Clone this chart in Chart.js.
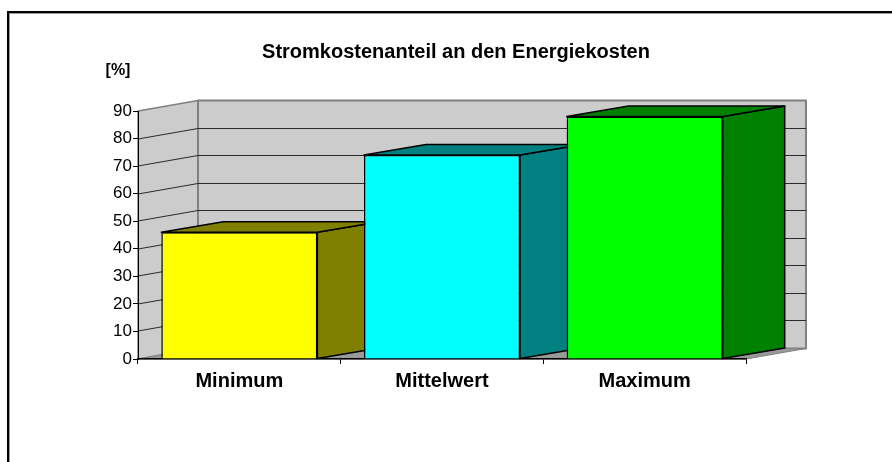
<!DOCTYPE html>
<html lang="de">
<head>
<meta charset="utf-8">
<title>Stromkostenanteil an den Energiekosten</title>
<script src="https://cdn.jsdelivr.net/npm/chart.js@4"></script>
<style>
  html, body { margin: 0; padding: 0; background: #fff; overflow: hidden; }
  canvas { display: block; }
</style>
</head>
<body>
<canvas id="chart" width="892" height="462"></canvas>
<script>
const categories = ["Minimum", "Mittelwert", "Maximum"];
const values = [46, 74, 88];
const tickLabels = [0, 10, 20, 30, 40, 50, 60, 70, 80, 90];
const chartTitle = "Stromkostenanteil an den Energiekosten";
const unitLabel = "[%]";

const frontColors = ["#ffff00", "#00ffff", "#00ff00"];
const sideColors = ["#808000", "#008080", "#008000"];

// depth of the fake 3D box
const DEPTH_X = 60;
const DEPTH_Y = -10.5;
const FONT = '"Liberation Sans", Arial, sans-serif';

function poly(ctx, pts, fill, stroke, lineWidth) {
  ctx.beginPath();
  pts.forEach((p, i) => (i ? ctx.lineTo(p[0], p[1]) : ctx.moveTo(p[0], p[1])));
  ctx.closePath();
  if (fill) {
    ctx.fillStyle = fill;
    ctx.fill();
  }
  if (stroke) {
    ctx.strokeStyle = stroke;
    ctx.lineWidth = lineWidth;
    ctx.lineJoin = "round";
    ctx.stroke();
  }
}

const pagePlugin = {
  id: "page",
  beforeDraw(chart) {
    const ctx = chart.ctx;
    ctx.save();
    // only top and left edges of the frame are in the picture
    ctx.fillStyle = "#999999";
    ctx.fillRect(7, 11, 885, 3);
    ctx.fillRect(7, 11, 3, 451);
    ctx.fillStyle = "#000000";
    ctx.fillRect(7, 11, 885, 2);
    ctx.fillRect(7, 11, 2, 451);
    ctx.textBaseline = "middle";
    ctx.textAlign = "center";
    ctx.font = "bold 20px " + FONT;
    ctx.fillText(chartTitle, 456, 52);
    ctx.font = "bold 16px " + FONT;
    ctx.fillText(unitLabel, 118, 71);
    ctx.restore();
  },
};

const wallsPlugin = {
  id: "walls",
  // before the scales, so the black axis lines stay on top of the walls
  beforeDraw(chart) {
    const ctx = chart.ctx;
    const { x: xs, y: ys } = chart.scales;
    const l = xs.left, r = xs.right;
    const top = ys.getPixelForValue(tickLabels[tickLabels.length - 1]);
    const bot = ys.getPixelForValue(0);
    ctx.save();
    // side wall, back wall, floor
    poly(ctx, [[l, bot], [l + DEPTH_X, bot + DEPTH_Y], [l + DEPTH_X, top + DEPTH_Y], [l, top]], "#cccccc", "#808080", 1.5);
    poly(ctx, [[l + DEPTH_X, bot + DEPTH_Y], [r + DEPTH_X, bot + DEPTH_Y], [r + DEPTH_X, top + DEPTH_Y], [l + DEPTH_X, top + DEPTH_Y]], "#cccccc", "#808080", 2);
    poly(ctx, [[l, bot], [r, bot], [r + DEPTH_X, bot + DEPTH_Y], [l + DEPTH_X, bot + DEPTH_Y]], "#999999", "#808080", 1);
    // grid lines run over both walls
    ctx.strokeStyle = "#2a2a2a";
    ctx.lineWidth = 1;
    ys.ticks.forEach((t) => {
      if (t.value === 0 || t.value === tickLabels[tickLabels.length - 1]) return;
      const py = Math.round(ys.getPixelForValue(t.value));
      ctx.beginPath();
      ctx.moveTo(l, py);
      ctx.lineTo(l + DEPTH_X, py + DEPTH_Y);
      ctx.lineTo(r + DEPTH_X, py + DEPTH_Y);
      ctx.stroke();
    });
    // side and top faces of the bars, fronts come from Chart.js afterwards
    chart.getDatasetMeta(0).data.forEach((bar, i) => {
      const fl = bar.x - bar.width / 2;
      const fr = bar.x + bar.width / 2;
      poly(ctx, [[fr, bar.y], [fr + DEPTH_X + 2, bar.y + DEPTH_Y], [fr + DEPTH_X + 2, bar.base + DEPTH_Y], [fr, bar.base]], sideColors[i], "#000000", 1.5);
      poly(ctx, [[fl, bar.y], [fl + DEPTH_X + 2, bar.y + DEPTH_Y], [fr + DEPTH_X + 2, bar.y + DEPTH_Y], [fr, bar.y]], sideColors[i], "#000000", 1.5);
    });
    ctx.restore();
  },
};

new Chart(document.getElementById("chart"), {
  type: "bar",
  data: {
    labels: categories,
    datasets: [
      {
        data: values,
        backgroundColor: frontColors,
        borderColor: "#000000",
        borderWidth: 1.5,
        barPercentage: 0.77,
        categoryPercentage: 1,
      },
    ],
  },
  plugins: [pagePlugin, wallsPlugin],
  options: {
    responsive: false,
    animation: false,
    layout: { padding: { top: 111, right: 146, left: 0, bottom: 0 } },
    plugins: { legend: { display: false }, title: { display: false }, tooltip: { enabled: false } },
    scales: {
      x: {
        afterFit(scale) {
          scale.height = 103;
        },
        grid: { drawOnChartArea: false, color: "#000000", tickLength: 5 },
        border: { color: "#000000", width: 1.5 },
        ticks: { color: "#000000", padding: 5, maxRotation: 0, font: { family: FONT, size: 20, weight: "bold" } },
      },
      y: {
        min: 0,
        max: 90,
        afterFit(scale) {
          scale.width = 138;
        },
        afterBuildTicks(scale) {
          scale.ticks = tickLabels.map((v) => ({ value: v }));
        },
        grid: { drawOnChartArea: false, color: "#000000", tickLength: 5 },
        border: { color: "#000000", width: 1 },
        ticks: { color: "#000000", padding: 1, font: { family: FONT, size: 17 } },
      },
    },
  },
});
</script>
</body>
</html>
